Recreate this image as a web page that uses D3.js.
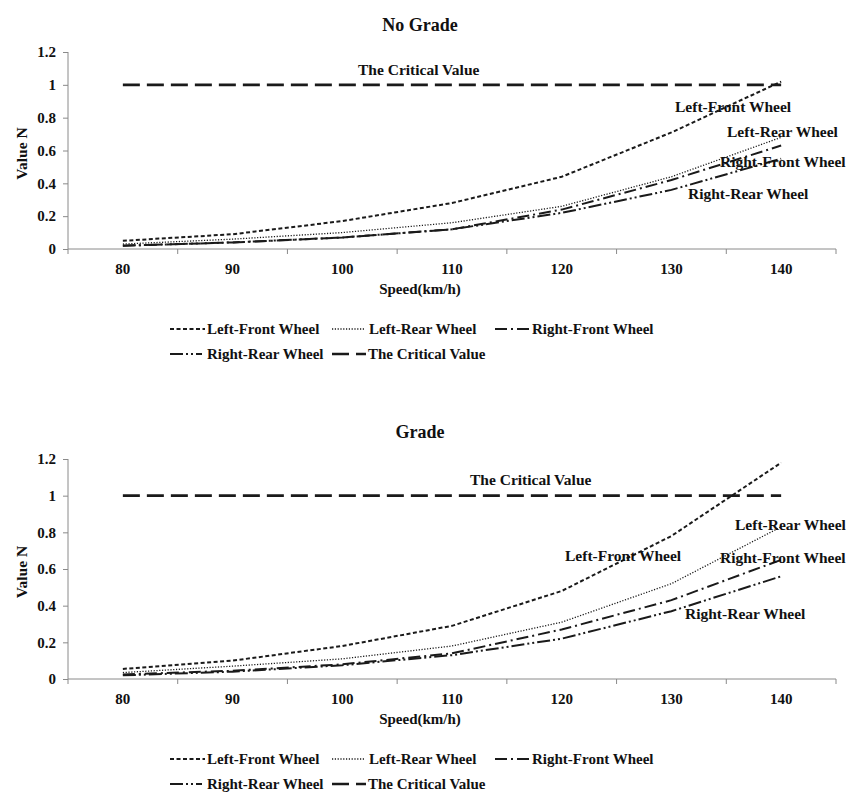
<!DOCTYPE html>
<html>
<head>
<meta charset="utf-8">
<script src="https://cdn.jsdelivr.net/npm/d3@7"></script>
<style>
  html, body { margin: 0; padding: 0; background: #fff; }
  svg text { font-family: "Liberation Serif", "Times New Roman", serif; font-weight: bold; fill: #111; }
</style>
</head>
<body>
<svg id="chart" width="849" height="793"></svg>
<script>
// ---------- data ----------
const categories = ["80", "90", "100", "110", "120", "130", "140"];
const yTicks = [0, 0.2, 0.4, 0.6, 0.8, 1, 1.2];
const yTickLabels = ["0", "0.2", "0.4", "0.6", "0.8", "1", "1.2"];
const seriesNames = ["Left-Front Wheel", "Left-Rear Wheel", "Right-Front Wheel", "Right-Rear Wheel", "The Critical Value"];

const noGradeLeftFront  = [0.05, 0.09, 0.17, 0.28, 0.44, 0.71, 1.02];
const noGradeLeftRear   = [0.03, 0.06, 0.10, 0.16, 0.26, 0.44, 0.68];
const noGradeRightFront = [0.02, 0.04, 0.07, 0.12, 0.24, 0.42, 0.63];
const noGradeRightRear  = [0.02, 0.04, 0.07, 0.12, 0.22, 0.36, 0.55];
const noGradeCritical   = [1, 1, 1, 1, 1, 1, 1];

const gradeLeftFront  = [0.055, 0.10, 0.18, 0.29, 0.48, 0.78, 1.18];
const gradeLeftRear   = [0.035, 0.07, 0.11, 0.18, 0.31, 0.52, 0.83];
const gradeRightFront = [0.025, 0.045, 0.08, 0.14, 0.27, 0.43, 0.65];
const gradeRightRear  = [0.02, 0.04, 0.075, 0.13, 0.22, 0.37, 0.56];
const gradeCritical   = [1, 1, 1, 1, 1, 1, 1];

const titles = ["No Grade", "Grade"];
const xTitle = "Speed(km/h)";
const yTitle = "Value N";

// ---------- styles ----------
const styles = [
  { dash: "4,2.5", width: 2 },
  { dash: "1.2,1.6", width: 1.3 },
  { dash: "12,4,2,4", width: 2 },
  { dash: "13,3,2,3,2,3", width: 2 },
  { dash: "17,7", width: 2.6 }
];

const svg = d3.select("#chart");

function drawChart(cfg) {
  const g = svg.append("g");
  const x = d3.scaleBand().domain(categories).range([68, 836]);
  const y = d3.scaleLinear().domain([0, 1.2]).range([cfg.y0, cfg.y12]);
  const bw = x.bandwidth();
  const cx = c => x(c) + bw / 2;

  // title
  g.append("text").attr("x", 420).attr("y", cfg.titleY).attr("text-anchor", "middle")
    .style("font-size", "18px").text(cfg.title);

  // y axis
  const yAxis = d3.axisLeft(y).tickValues(yTicks).tickSize(5).tickPadding(7)
    .tickFormat((d, i) => yTickLabels[i]);
  const ya = g.append("g").attr("transform", "translate(68,0)").call(yAxis);
  ya.select(".domain").attr("stroke", "#8a8a8a").attr("d", `M0,${cfg.y12}V${cfg.y0}`);
  ya.selectAll(".tick line").attr("stroke", "#8a8a8a");
  ya.selectAll(".tick text").style("font-size", "15px").attr("fill", "#111")
    .style("font-family", "'Liberation Serif', serif").style("font-weight", "bold");

  // x axis: ticks between categories, labels at centers
  const xa = g.append("g").attr("transform", `translate(0,${cfg.y0})`)
    .call(d3.axisBottom(x).tickSize(0).tickPadding(14));
  xa.select(".domain").attr("stroke", "#8a8a8a").attr("d", "M68,0H836");
  xa.selectAll(".tick text").style("font-size", "15px").attr("fill", "#111")
    .style("font-family", "'Liberation Serif', serif").style("font-weight", "bold");
  const edges = categories.map(c => x(c)).concat([x.range()[1]]);
  xa.selectAll("line.edge").data(edges).enter().append("line").attr("class", "edge")
    .attr("x1", d => d).attr("x2", d => d).attr("y1", 0).attr("y2", 5)
    .attr("stroke", "#8a8a8a");

  // axis titles
  g.append("text").attr("x", 420).attr("y", cfg.xTitleY).attr("text-anchor", "middle")
    .style("font-size", "15px").text(xTitle);
  g.append("text").attr("transform", `translate(27,${(cfg.y0 + cfg.y12) / 2 + 3}) rotate(-90)`)
    .attr("text-anchor", "middle").style("font-size", "15.5px").text(yTitle);

  // lines
  const line = d3.line().x((d, i) => cx(categories[i])).y(d => y(d));
  cfg.series.forEach((vals, i) => {
    g.append("path").datum(vals).attr("d", line).attr("fill", "none")
      .attr("stroke", "#1a1a1a").attr("stroke-width", styles[i].width)
      .attr("stroke-dasharray", styles[i].dash);
  });

  // in-plot labels
  cfg.labels.forEach((lb, i) => {
    g.append("text").attr("x", lb[0]).attr("y", lb[1]).style("font-size", "15.5px").text(seriesNames[i]);
  });

  // legend
  const legendItems = [
    { s: 0, x1: 170, x2: 205, tx: 207, row: 0 },
    { s: 1, x1: 332, x2: 365, tx: 369, row: 0 },
    { s: 2, x1: 495, x2: 530, tx: 532, row: 0 },
    { s: 3, x1: 170, x2: 202, tx: 207, row: 1 },
    { s: 4, x1: 332, x2: 366, tx: 368, row: 1 }
  ];
  legendItems.forEach(it => {
    const by = cfg.legendY[it.row];
    g.append("line").attr("x1", it.x1).attr("x2", it.x2).attr("y1", by - 5).attr("y2", by - 5)
      .attr("stroke", "#1a1a1a").attr("stroke-width", styles[it.s].width)
      .attr("stroke-dasharray", styles[it.s].dash);
    g.append("text").attr("x", it.tx).attr("y", by).style("font-size", "15px").text(seriesNames[it.s]);
  });
}

drawChart({
  title: titles[0], titleY: 31, y0: 249, y12: 52, xTitleY: 294,
  series: [noGradeLeftFront, noGradeLeftRear, noGradeRightFront, noGradeRightRear, noGradeCritical],
  labels: [[675, 112], [727, 137], [720, 167], [688, 199], [358, 75]],
  legendY: [334, 359]
});

drawChart({
  title: titles[1], titleY: 438, y0: 679, y12: 459, xTitleY: 724,
  series: [gradeLeftFront, gradeLeftRear, gradeRightFront, gradeRightRear, gradeCritical],
  labels: [[565, 561], [735, 530], [720, 563], [685, 619], [470, 485]],
  legendY: [764, 789]
});
</script>
</body>
</html>
